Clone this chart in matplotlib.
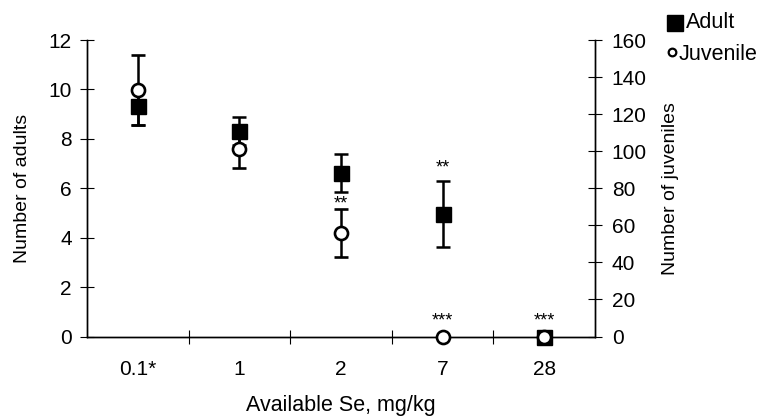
import numpy as np
import matplotlib
matplotlib.use('Agg')
import matplotlib.pyplot as plt
from matplotlib.lines import Line2D

plt.rcParams['font.family'] = ['Liberation Sans', 'DejaVu Sans']

doses = ['0.1*', '1', '2', '7', '28']
adults = [9.32, 8.33, 6.6, 4.95, 0.0]
adults_err = [0.75, 0.56, 0.77, 1.33, 0.0]
juveniles = [133.0, 101.0, 55.7, 0.0, 0.0]
juveniles_err = [18.9, 9.9, 13.0, 0.0, 0.0]
adult_marks = ['', '', '', '**', '']
juv_marks = ['', '', '**', '***', '***']

x = np.arange(len(doses))
W, H = 768, 419

fig = plt.figure(figsize=(W / 100, H / 100), dpi=100)
ax = fig.add_axes([87 / W, 1 - 336.5 / H, 508 / W, 296.5 / H])
ax2 = ax.twinx()

ax.errorbar(x, adults, yerr=adults_err, fmt='s', color='black', markersize=10.8,
	markerfacecolor='black', markeredgecolor='black', ecolor='black',
	elinewidth=1.8, capsize=5, capthick=1.8, clip_on=False, zorder=3)
ax2.errorbar(x, juveniles, yerr=juveniles_err, fmt='o', color='black', markersize=9.4,
	markerfacecolor='white', markeredgecolor='black', markeredgewidth=1.9, ecolor='black',
	elinewidth=1.8, capsize=5, capthick=1.8, clip_on=False, zorder=4)

# significance stars (offset in points above the bar top)
for i in range(len(doses)):
	if adult_marks[i]:
		ax.annotate(adult_marks[i], xy=(x[i], adults[i] + adults_err[i]), xytext=(0, 9.5),
			textcoords='offset points', ha='center', va='center', fontsize=13)
	if juv_marks[i]:
		off = 3.5 if juveniles_err[i] > 0 else 11.5
		ax2.annotate(juv_marks[i], xy=(x[i], juveniles[i] + juveniles_err[i]), xytext=(0, off),
			textcoords='offset points', ha='center', va='center', fontsize=13)

ax.set_xlim(-0.5, len(doses) - 0.5)
ax.set_ylim(0, 12)
ax2.set_ylim(0, 160)
ax.set_yticks(np.arange(0, 13, 2))
ax2.set_yticks(np.arange(0, 161, 20))
ax.set_xticks(x)
ax.set_xticklabels(doses)
ax.set_xticks(np.arange(0.5, len(doses) - 0.5, 1), minor=True)

for a in (ax, ax2):
	a.spines['top'].set_visible(False)
	for s in a.spines.values():
		s.set_linewidth(1.0)
ax.tick_params(axis='x', which='major', length=0, labelsize=15, pad=17)
ax.tick_params(axis='x', which='minor', direction='inout', length=10, width=0.8)
ax.tick_params(axis='y', direction='inout', length=10, width=0.8, labelsize=15, pad=6)
ax2.tick_params(axis='y', direction='inout', length=10, width=0.8, labelsize=15, pad=7)

ax.set_ylabel('Number of adults', fontsize=14)
ax2.set_ylabel('Number of juveniles', fontsize=14)
ax.set_xlabel('Available Se, mg/kg', fontsize=15.5)
ax.yaxis.set_label_coords(-56 / 508, 0.5)
ax2.yaxis.set_label_coords(1 + 67 / 508, 0.5)
ax.xaxis.set_label_coords(0.5, -58 / 296.5)

# legend drawn by hand at the top right
fig.add_artist(Line2D([674.5 / W], [1 - 23 / H], marker='s', linestyle='none', color='black',
	markersize=11.5, transform=fig.transFigure))
fig.add_artist(Line2D([671.5 / W], [1 - 52.5 / H], marker='o', linestyle='none',
	markerfacecolor='white', markeredgecolor='black', markeredgewidth=1.6, markersize=5.5,
	transform=fig.transFigure))
fig.text(686 / W, 1 - 23 / H, 'Adult', fontsize=15.5, va='center', ha='left')
fig.text(679 / W, 1 - 54 / H, 'Juvenile', fontsize=15.5, va='center', ha='left')

fig.savefig('out.png', dpi=100)
